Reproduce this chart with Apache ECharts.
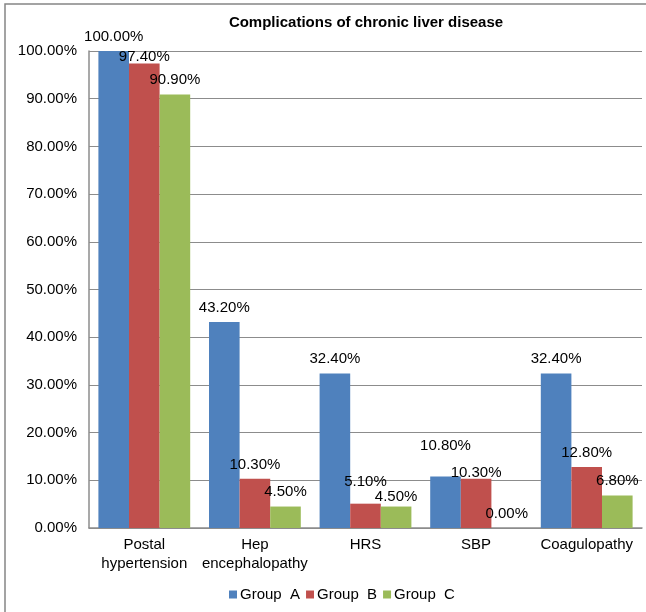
<!DOCTYPE html>
<html>
<head>
<meta charset="utf-8">
<style>
  html, body { margin: 0; padding: 0; background: #ffffff; }
  #chart { width: 646px; height: 612px; }
</style>
<script src="https://cdn.jsdelivr.net/npm/echarts@6/dist/echarts.min.js"></script>
</head>
<body>
<div id="chart"></div>
<script>
// Complications by patient group (percent of patients)
const categories = ['Postal\nhypertension', 'Hep\nencephalopathy', 'HRS', 'SBP', 'Coagulopathy'];
const groupNames = ['Group  A', 'Group  B', 'Group  C'];
const groupA = [100, 43.2, 32.4, 10.8, 32.4];
const groupB = [97.4, 10.3, 5.1, 10.3, 12.8];
const groupC = [90.9, 4.5, 4.5, 0, 6.8];
const colors = ['#4F81BD', '#C0504D', '#9BBB59'];

// Vertical nudges (px) for value labels that would otherwise collide,
// keyed by "series:categoryIndex".
const labelNudge = { '0:3': -16, '1:0': 8, '1:2': -7, '1:3': 8, '2:2': 5 };

const FONT = '"Liberation Sans", Arial, sans-serif';
const pct = v => Number(v).toFixed(2) + '%';

const chart = echarts.init(document.getElementById('chart'), null, { renderer: 'canvas' });

function makeSeries(si, data) {
  return {
    name: groupNames[si],
    type: 'bar',
    data: data.map((v, i) => {
      const dy = labelNudge[si + ':' + i];
      return dy ? { value: v, label: { offset: [0, dy] } } : v;
    }),
    barGap: '0%',
    barCategoryGap: '17%',
    itemStyle: { color: colors[si] },
    label: {
      show: true,
      position: 'top',
      distance: 7,
      formatter: p => pct(p.value),
      color: '#000',
      fontFamily: FONT,
      fontSize: 15
    },
    emphasis: { disabled: true }
  };
}

chart.setOption({
  animation: false,
  backgroundColor: '#ffffff',
  graphic: [{
    type: 'rect',
    shape: { x: 5, y: 4, width: 900, height: 900 },
    style: { fill: 'none', stroke: '#858585', lineWidth: 1.5 },
    silent: true,
    z: 100
  }],
  title: {
    text: 'Complications of chronic liver disease',
    left: 361,
    textAlign: 'center',
    top: 10,
    textStyle: { fontFamily: FONT, fontSize: 15, fontWeight: 'bold', color: '#000' }
  },
  legend: {
    data: groupNames,
    left: 224,
    top: 582,
    itemWidth: 8,
    itemHeight: 8,
    itemGap: 6,
    icon: 'rect',
    textStyle: { fontFamily: FONT, fontSize: 15, color: '#000', padding: [0, 0, 0, -2] }
  },
  grid: { left: 89, right: 4, top: 51, bottom: 84, containLabel: false },
  xAxis: {
    type: 'category',
    data: categories,
    axisLine: { lineStyle: { color: '#8c8c8c', width: 1.5 } },
    axisTick: { show: false },
    axisLabel: {
      margin: 7,
      interval: 0,
      color: '#000',
      fontFamily: FONT,
      fontSize: 15,
      lineHeight: 19
    }
  },
  yAxis: {
    type: 'value',
    min: 0,
    max: 100,
    interval: 10,
    axisLine: { show: true, lineStyle: { color: '#8c8c8c', width: 1.5 } },
    axisTick: { show: false },
    splitLine: { lineStyle: { color: '#8c8c8c', width: 1.2 } },
    axisLabel: {
      margin: 12,
      formatter: v => pct(v),
      color: '#000',
      fontFamily: FONT,
      fontSize: 15
    }
  },
  series: [
    makeSeries(0, groupA),
    makeSeries(1, groupB),
    makeSeries(2, groupC)
  ]
});
</script>
</body>
</html>
